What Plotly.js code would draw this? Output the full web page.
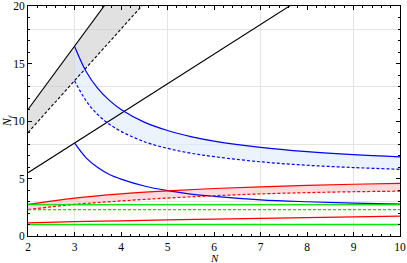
<!DOCTYPE html>
<html><head><meta charset="utf-8">
<script src="https://cdn.plot.ly/plotly-3.0.1.min.js"></script>
<style>html,body{margin:0;padding:0;background:#fff}#chart{width:407px;height:263px}</style>
</head><body><div id="chart"></div>
<script>
// Fundamental (black)
const fundN_upper = [2, 4];
const fundNf_upper = [11, 22];
const fundN_dashed = [2, 4.89];
const fundNf_dashed = [9, 22];
const fundN_lower = [2, 8.4];
const fundNf_lower = [5.5, 22];

// Two-index antisymmetric (blue)
const antiN = [3, 3.25, 3.5, 3.75, 4, 4.5, 5, 5.5, 6, 7, 8, 9, 10];
const antiUpper = [16.5, 14.3, 12.83, 11.79, 11, 9.9, 9.17, 8.64, 8.25, 7.7, 7.33, 7.07, 6.88];
const antiDashed = [13.5, 11.75, 10.55, 9.72, 9.1, 8.2, 7.62, 7.2, 6.9, 6.45, 6.15, 5.95, 5.8];
const antiLower = [8.1, 6.8, 5.95, 5.35, 4.95, 4.35, 3.95, 3.65, 3.45, 3.15, 2.98, 2.86, 2.77];

// Two-index symmetric (red)
const symN = [2, 3, 4, 5, 6, 7, 8, 9, 10];
const symUpper = [2.75, 3.3, 3.67, 3.93, 4.13, 4.28, 4.4, 4.5, 4.58];
const symDashed = [2.3, 2.75, 3.05, 3.3, 3.5, 3.66, 3.77, 3.85, 3.9];
const symLower = [1.15, 1.25, 1.32, 1.4, 1.47, 1.54, 1.6, 1.66, 1.72];

// Adjoint (green)
const adjN = [2, 10];
const adjUpper = [2.75, 2.75];
const adjBandLow = [2.6, 2.6];
const adjDashed = [2.3, 2.3];
const adjLower = [1.0, 1.0];

const xTicks = [2, 3, 4, 5, 6, 7, 8, 9, 10];
const yTicks = [0, 5, 10, 15, 20];

const rev = a => a.slice().reverse();
const FAM = 'Liberation Serif';
const font = {family: FAM, size: 12, color: '#000'};
const tickFont = {family: FAM, size: 11.5, color: '#000'};

const traces = [
  // fills
  {x: fundN_upper.concat(rev(fundN_dashed)), y: fundNf_upper.concat(rev(fundNf_dashed)),
   fill: 'toself', fillcolor: 'rgba(200,200,200,0.55)', line: {width: 0}, mode: 'lines', hoverinfo: 'skip'},
  {x: antiN.concat(rev(antiN)), y: antiUpper.concat(rev(antiDashed)),
   fill: 'toself', fillcolor: 'rgba(220,235,255,0.6)', line: {width: 0}, mode: 'lines', hoverinfo: 'skip'},
  {x: symN.concat(rev(symN)), y: symUpper.concat(rev(symDashed)),
   fill: 'toself', fillcolor: 'rgba(255,190,190,0.55)', line: {width: 0}, mode: 'lines', hoverinfo: 'skip'},
  {x: adjN.concat(rev(adjN)), y: adjUpper.concat(rev(adjBandLow)),
   fill: 'toself', fillcolor: 'rgba(110,245,110,0.75)', line: {width: 0}, mode: 'lines', hoverinfo: 'skip'},
  // lines
  {x: fundN_upper, y: fundNf_upper, mode: 'lines', line: {color: '#000', width: 1.1}},
  {x: fundN_dashed, y: fundNf_dashed, mode: 'lines', line: {color: '#000', width: 1.1, dash: '3px,2px'}},
  {x: fundN_lower, y: fundNf_lower, mode: 'lines', line: {color: '#000', width: 1.1}},
  {x: antiN, y: antiUpper, mode: 'lines', line: {color: '#0000ff', width: 1.2, shape: 'spline'}},
  {x: antiN, y: antiDashed, mode: 'lines', line: {color: '#0000ff', width: 1.2, dash: '3px,2px', shape: 'spline'}},
  {x: antiN, y: antiLower, mode: 'lines', line: {color: '#0000ff', width: 1.2, shape: 'spline'}},
  {x: symN, y: symUpper, mode: 'lines', line: {color: '#ff0000', width: 1.2, shape: 'spline'}},
  {x: symN, y: symDashed, mode: 'lines', line: {color: '#ff0000', width: 1.2, dash: '3px,2px', shape: 'spline'}},
  {x: symN, y: symLower, mode: 'lines', line: {color: '#ff0000', width: 1.2, shape: 'spline'}},
  {x: adjN, y: adjUpper, mode: 'lines', line: {color: '#00e000', width: 1}},
  {x: adjN, y: adjDashed, mode: 'lines', line: {color: '#00dd00', width: 1.2, dash: '3px,2px'}},
  {x: adjN, y: adjLower, mode: 'lines', line: {color: '#00ee00', width: 1.6}},
  // dummy traces for grid axes and mirrored minor ticks
  {x: [null], y: [null], xaxis: 'x2', yaxis: 'y2', mode: 'lines', hoverinfo: 'skip'},
  {x: [null], y: [null], xaxis: 'x3', yaxis: 'y3', mode: 'lines', hoverinfo: 'skip'}
];

const layout = {
  width: 407, height: 263,
  margin: {l: 28, r: 7, t: 6, b: 27},
  showlegend: false,
  paper_bgcolor: '#fff', plot_bgcolor: '#fff',
  font: font,
  xaxis: {
    range: [2, 10], tickvals: xTicks, ticktext: xTicks.map(String),
    ticks: 'inside', ticklen: 4, tickwidth: 1, tickcolor: '#000',
    showline: true, linecolor: '#000', linewidth: 1, mirror: 'allticks',
    showgrid: false, zeroline: false, tickfont: tickFont, ticklabeloverflow: 'allow',
    minor: {dtick: 0.2, ticks: 'inside', ticklen: 2, tickcolor: '#000', tickwidth: 1, showgrid: false}
  },
  yaxis: {
    range: [0, 20], tickvals: yTicks, ticktext: yTicks.map(String),
    ticks: 'inside', ticklen: 4, tickwidth: 1, tickcolor: '#000',
    showline: true, linecolor: '#000', linewidth: 1, mirror: 'allticks',
    showgrid: false, zeroline: false, tickfont: tickFont, ticklabeloverflow: 'allow',
    minor: {dtick: 1, ticks: 'inside', ticklen: 2, tickcolor: '#000', tickwidth: 1, showgrid: false},
    title: {text: '<i>N</i><sub><i>f</i></sub>', font: font, standoff: 2}
  },
  xaxis2: {overlaying: 'x', range: [2, 10], tick0: 3, dtick: 2, showgrid: true, gridcolor: '#e4e4e4',
    gridwidth: 1, showticklabels: false, ticks: '', showline: false, zeroline: false},
  yaxis2: {overlaying: 'y', range: [0, 20], tick0: 3, dtick: 5, showgrid: true, gridcolor: '#e4e4e4',
    gridwidth: 1, showticklabels: false, ticks: '', showline: false, zeroline: false},
  xaxis3: {overlaying: 'x', side: 'top', range: [2, 10], tick0: 2, dtick: 0.2, ticks: 'inside', ticklen: 2,
    tickcolor: '#000', showticklabels: false, showgrid: false, showline: false, zeroline: false},
  yaxis3: {overlaying: 'y', side: 'right', range: [0, 20], tick0: 0, dtick: 1, ticks: 'inside', ticklen: 2,
    tickcolor: '#000', showticklabels: false, showgrid: false, showline: false, zeroline: false},
  annotations: [
    {text: '<i>N</i>', xref: 'paper', yref: 'paper', x: 0.5, y: -0.095, yanchor: 'middle',
     showarrow: false, font: {family: FAM, size: 11, color: '#000'}}
  ]
};

Plotly.newPlot('chart', traces, layout, {displayModeBar: false, staticPlot: true});
</script></body></html>
